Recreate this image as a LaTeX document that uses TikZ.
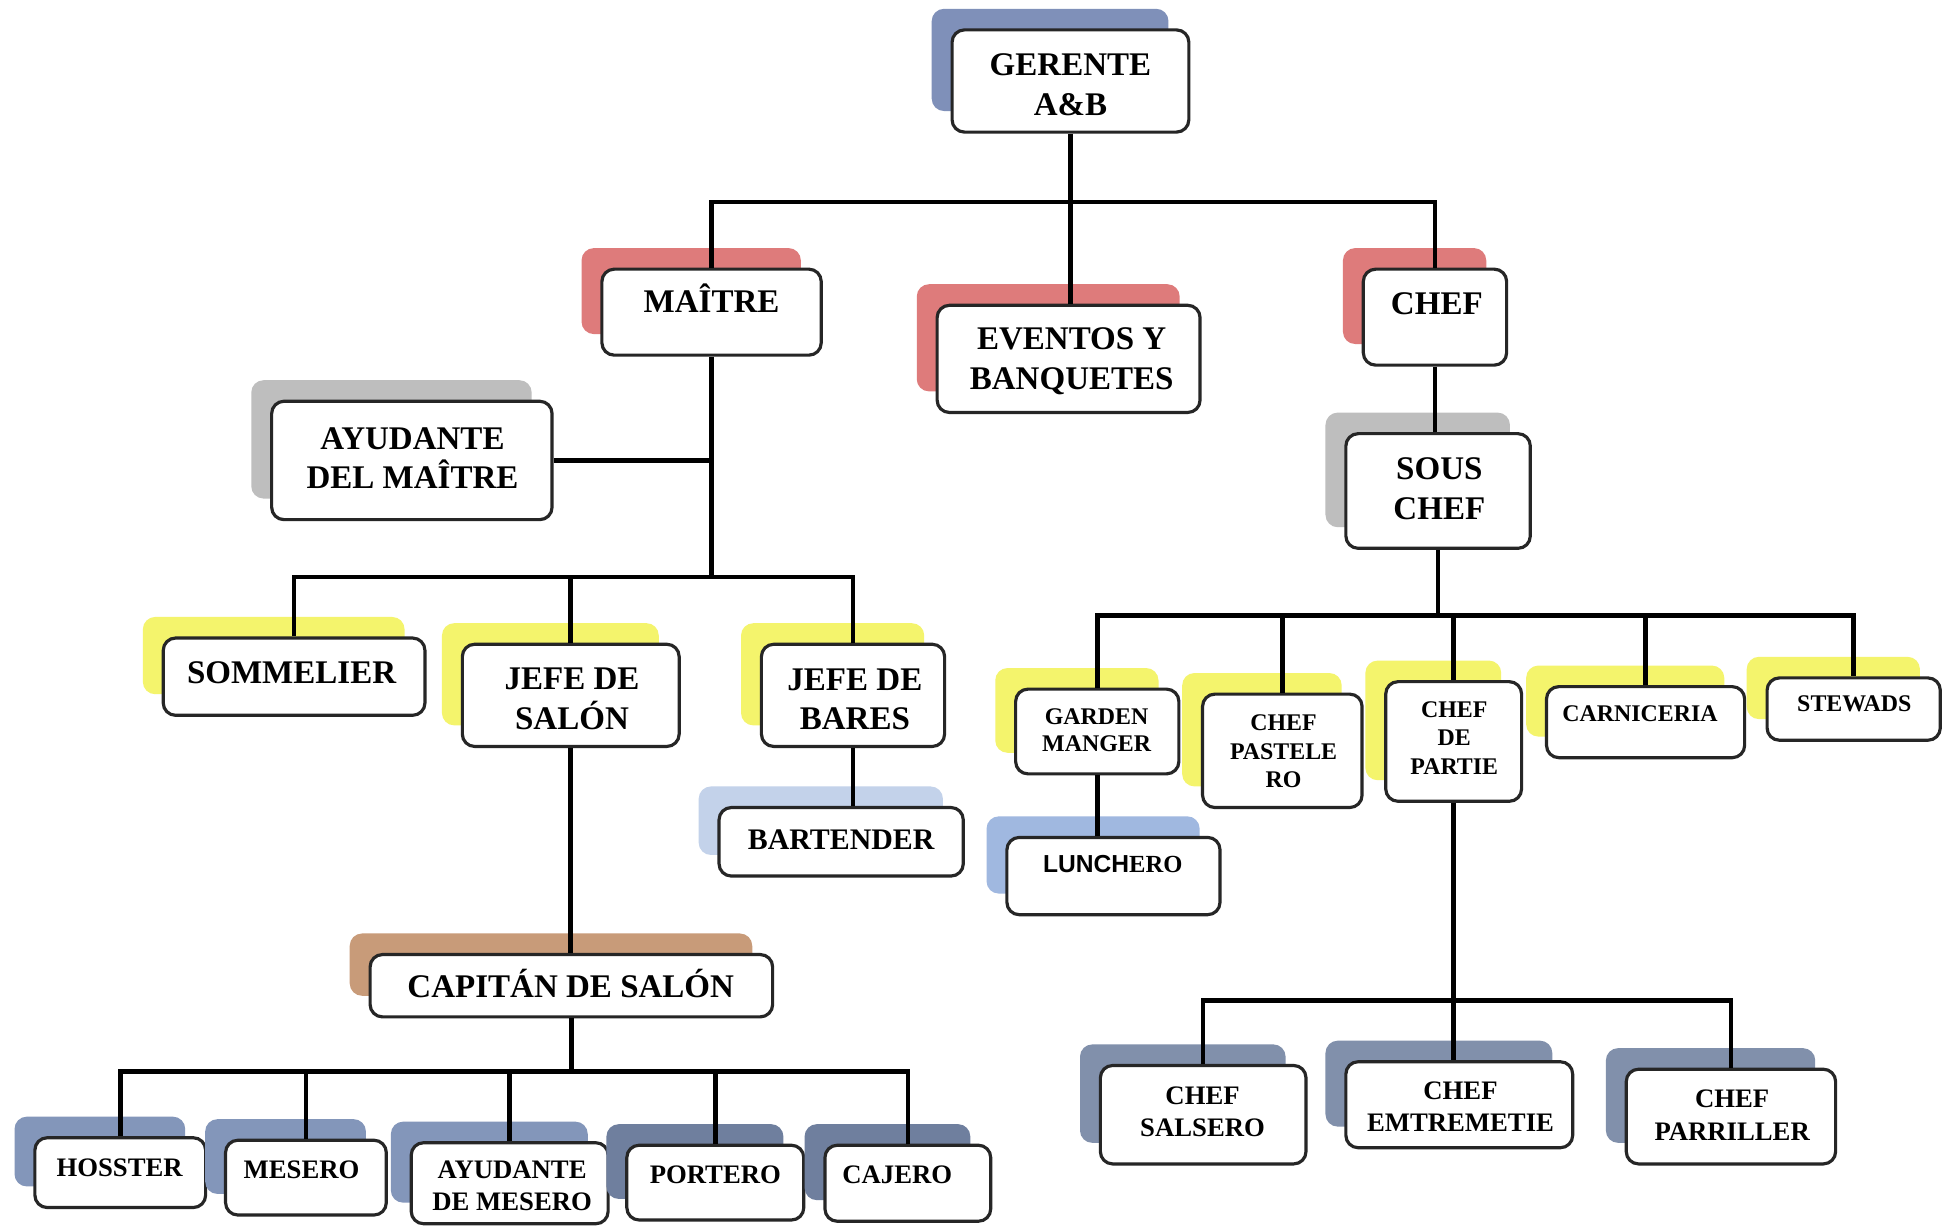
\documentclass[tikz,border=0pt]{standalone}
\usepackage{fontspec}
\setmainfont{Liberation Serif}
\newfontfamily\lsans{Liberation Sans}
\usetikzlibrary{fit,shadows}
\definecolor{cGer}{RGB}{127,144,185}
\definecolor{cRed}{RGB}{222,123,123}
\definecolor{cGry}{RGB}{190,190,190}
\definecolor{cYel}{RGB}{244,244,108}
\definecolor{cLbl}{RGB}{195,210,234}
\definecolor{cLun}{RGB}{160,184,224}
\definecolor{cBrn}{RGB}{200,155,121}
\definecolor{cBb1}{RGB}{131,150,186}
\definecolor{cBb2}{RGB}{111,127,158}
\definecolor{cBb3}{RGB}{129,144,171}
\tikzset{
  bx/.style={draw=black!85, line width=0.9pt, fill=white, rounded corners=3.5pt, inner sep=0pt,
    general shadow={fill=#1, draw=none, shadow xshift=-5.8pt, shadow yshift=6pt}},
  ln/.style={line width=1.3pt, black},
  tM/.style={font=\fontsize{9.4}{11.3}\selectfont\bfseries, align=center, inner sep=0pt, text height=6.2pt, text depth=0pt},
  tBt/.style={font=\fontsize{8.5}{10}\selectfont\bfseries, align=center, inner sep=0pt, text height=5.6pt, text depth=0pt},
  tB/.style={font=\fontsize{7.6}{8.9}\selectfont\bfseries, align=center, inner sep=0pt, text height=5.0pt, text depth=0pt},
  tR/.style={font=\fontsize{7.6}{9.2}\selectfont\bfseries, align=center, inner sep=0pt, text height=5.0pt, text depth=0pt},
  tS/.style={font=\fontsize{6.8}{8.1}\selectfont\bfseries, align=center, inner sep=0pt, text height=4.5pt, text depth=0pt},
}
\begin{document}
\begin{tikzpicture}[x=0.012462cm, y=-0.012462cm]
\fill[white] (0,0) rectangle (1568,984);
\useasboundingbox (0,0) rectangle (1568,984);

% boxes
\node[bx=cGer, fit={(764,24)(954,106)}] (ger) {};
\node[bx=cRed, fit={(483,216)(659,285)}] (mai) {};
\node[bx=cRed, fit={(752,245)(963,331)}] (eve) {};
\node[bx=cRed, fit={(1094,216)(1209,293)}] (chf) {};
\node[bx=cGry, fit={(1080,348)(1228,440)}] (sou) {};
\node[bx=cGry, fit={(218,322)(443,417)}] (ayu) {};
\node[bx=cYel, fit={(131,512)(341,574)}] (som) {};
\node[bx=cYel, fit={(371,517)(545,599)}] (sal) {};
\node[bx=cYel, fit={(611,517)(758,599)}] (bar) {};
\node[bx=cLbl, fit={(577,648)(773,703)}] (bt) {};
\node[bx=cBrn, fit={(297,766)(620,816)}] (cap) {};
\node[bx=cBb1, fit={(28,913)(165,969)}] (hos) {};
\node[bx=cBb1, fit={(181,915)(310,975)}] (mes) {};
\node[bx=cBb1, fit={(330,917)(488,982)}] (aym) {};
\node[bx=cBb2, fit={(503,919)(645,979)}] (por) {};
\node[bx=cBb2, fit={(662,919)(795,980)}] (caj) {};
\node[bx=cYel, fit={(815,553)(946,621)}] (gar) {};
\node[bx=cYel, fit={(965,557)(1093,648)}] (pas) {};
\node[bx=cYel, fit={(1112,547)(1221,643)}] (par) {};
\node[bx=cYel, fit={(1241,551)(1400,608)}] (car) {};
\node[bx=cYel, fit={(1418,544)(1557,594)}] (ste) {};
\node[bx=cLun, fit={(808,672)(979,734)}] (lun) {};
\node[bx=cBb3, fit={(883,855)(1048,934)}] (sals) {};
\node[bx=cBb3, fit={(1080,852)(1262,921)}] (emt) {};
\node[bx=cBb3, fit={(1305,858)(1473,934)}] (prl) {};

% texts
\node[tM, text height=17.5pt] (ger-t) at (859,68) {GERENTE\\A\&B};
\node[tM] (mai-t) at (571,242) {MAÎTRE};
\node[tM, text height=17.5pt] (eve-t) at (860,287.5) {EVENTOS Y\\BANQUETES};
\node[tM] (chf-t) at (1153,244) {CHEF};
\node[tM, text height=17.5pt] (sou-t) at (1155,392) {SOUS\\CHEF};
\node[tM, text height=17.5pt] (ayu-t) at (331,367.5) {AYUDANTE\\DEL MAÎTRE};
\node[tM] (som-t) at (234,540) {SOMMELIER};
\node[tM, text height=17.5pt] (sal-t) at (459,560.5) {JEFE DE\\SALÓN};
\node[tM, text height=17.5pt] (bar-t) at (686,561) {JEFE DE\\BARES};
\node[tBt] (bt-t) at (675,674) {BARTENDER};
\node[tM] (cap-t) at (458,792) {CAPITÁN DE SALÓN};
\node[tB] (hos-t) at (96,937) {HOSSTER};
\node[tB] (mes-t) at (242,939) {MESERO};
\node[tB, text height=13.9pt] (aym-t) at (411,951.5) {AYUDANTE\\DE MESERO};
\node[tB] (por-t) at (574,943) {PORTERO};
\node[tB] (caj-t) at (720,943) {CAJERO};
\node[tS, text height=12.3pt, font=\fontsize{6.8}{7.8}\selectfont\bfseries] (gar-t) at (880,586) {GARDEN\\MANGER};
\node[tS, text height=20.7pt] (pas-t) at (1030,603) {CHEF\\PASTELE\\RO};
\node[tS, text height=20.7pt] (par-t) at (1167,592) {CHEF\\DE\\PARTIE};
\node[tS] (car-t) at (1316,573) {CARNICERIA};
\node[tS] (ste-t) at (1488,565) {STEWADS};
\node[tS, font=\fontsize{7}{8}\selectfont\bfseries] (lun-t) at (893,694) {{\lsans LUNCH}ERO};
\node[tR, text height=14.2pt] (sals-t) at (965,892) {CHEF\\SALSERO};
\node[tR, text height=14.2pt] (emt-t) at (1172,888) {CHEF\\EMTREMETIE};
\node[tR, text height=14.2pt] (prl-t) at (1390,895) {CHEF\\PARRILLER};

% connectors
\coordinate (b1) at (858,162);
\coordinate (b2) at (570,463);
\coordinate (b3) at (460,860);
\coordinate (b4) at (1159,494);
\coordinate (b5) at (1168,803);
\draw[ln] (ger.south) -- (ger.south |- eve.north);
\draw[ln] (mai.north) |- (b1) -| (chf.north);
\draw[ln] (chf.south) -- (chf.south |- sou.north);
\draw[ln] (mai.south) -- (mai.south |- b2);
\draw[ln] (ayu.east) -- (ayu.east -| mai.south);
\draw[ln] (som.north) |- (b2) -| (bar.north);
\draw[ln] (sal.north) -- (sal.north |- b2);
\draw[ln] (bar.south) -- (bar.south |- bt.north);
\draw[ln] (sal.south) -- (sal.south |- cap.north);
\draw[ln] (cap.south) -- (cap.south |- b3);
\draw[ln] (hos.north) |- (b3) -| (caj.north);
\draw[ln] (mes.north) -- (mes.north |- b3);
\draw[ln] (aym.north) -- (aym.north |- b3);
\draw[ln] (por.north) -- (por.north |- b3);
\draw[ln] (sou.south) -- (sou.south |- b4);
\draw[ln] (gar.north) |- (b4) -| (ste.north);
\draw[ln] (pas.north) -- (pas.north |- b4);
\draw[ln] (par.north) -- (par.north |- b4);
\draw[ln] (car.north) -- (car.north |- b4);
\draw[ln] (gar.south) -- (gar.south |- lun.north);
\draw[ln] (par.south) -- (par.south |- emt.north);
\draw[ln] (sals.north) |- (b5) -| (prl.north);
\end{tikzpicture}
\end{document}
